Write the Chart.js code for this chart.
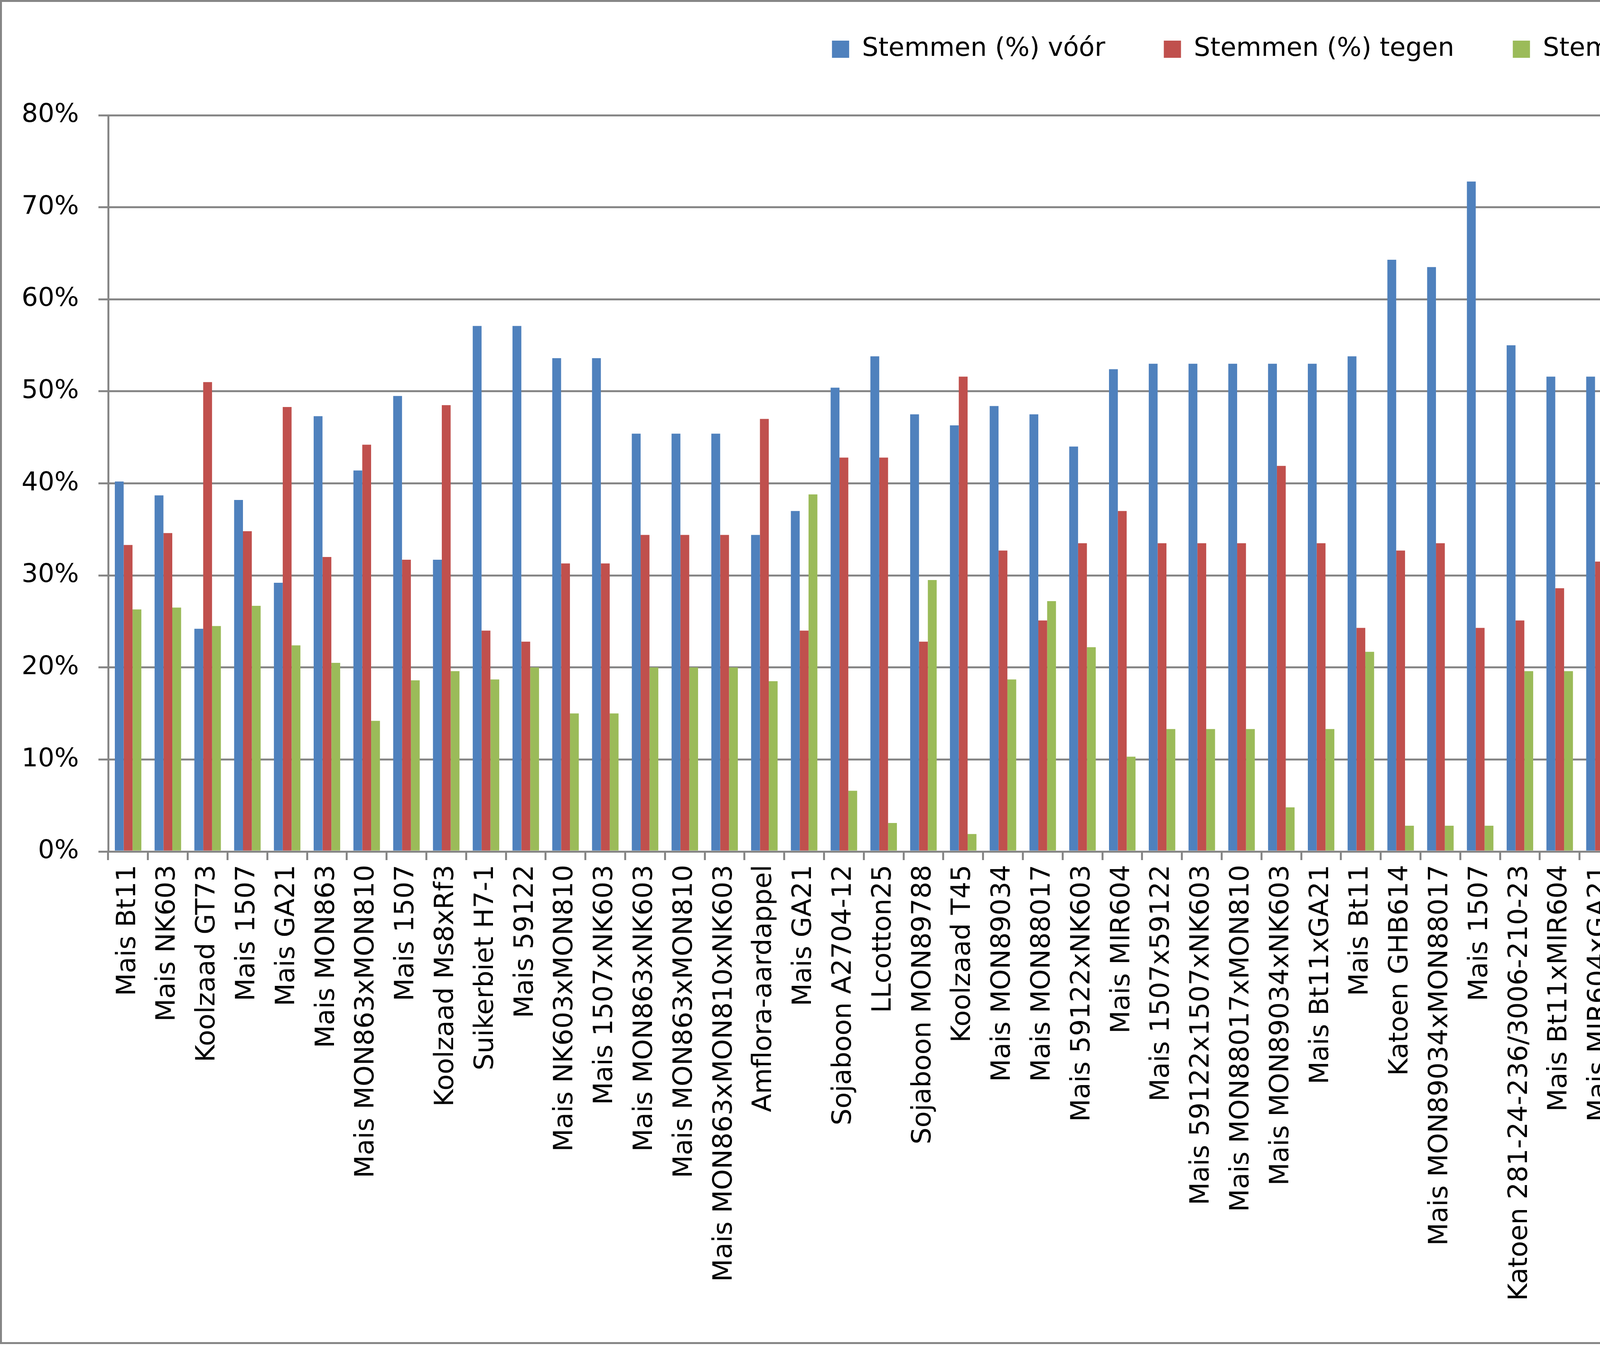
<!DOCTYPE html>
<html>
<head>
<meta charset="utf-8">
<script src="https://cdn.jsdelivr.net/npm/chart.js@4.4.1/dist/chart.umd.min.js"></script>
<style>
  html, body { margin: 0; padding: 0; background: #fff; }
  #wrap { position: relative; width: 7091px; height: 3446px; }
  #frame { position: absolute; left: 0; top: 0; width: 7076px; height: 3431px; border: 5px solid #868686; pointer-events: none; }
</style>
</head>
<body>
<div id="wrap">
  <canvas id="chart"></canvas>
  <div id="frame"></div>
</div>
<script>
// categorieën (gewassen / events)
const labels = [
  'Mais Bt11', 'Mais NK603', 'Koolzaad GT73', 'Mais 1507', 'Mais GA21', 'Mais MON863',
  'Mais MON863xMON810', 'Mais 1507', 'Koolzaad Ms8xRf3', 'Suikerbiet H7-1', 'Mais 59122',
  'Mais NK603xMON810', 'Mais 1507xNK603', 'Mais MON863xNK603', 'Mais MON863xMON810',
  'Mais MON863xMON810xNK603', 'Amflora-aardappel', 'Mais GA21', 'Sojaboon A2704-12',
  'LLcotton25', 'Sojaboon MON89788', 'Koolzaad T45', 'Mais MON89034', 'Mais MON88017',
  'Mais 59122xNK603', 'Mais MIR604', 'Mais 1507x59122', 'Mais 59122x1507xNK603',
  'Mais MON88017xMON810', 'Mais MON89034xNK603', 'Mais Bt11xGA21', 'Mais Bt11',
  'Katoen GHB614', 'Mais MON89034xMON88017', 'Mais 1507', 'Katoen 281-24-236/3006-210-23',
  'Mais Bt11xMIR604', 'Mais MIR604xGA21', 'Mais Bt11xMIR604xGA21', 'Sojaboon A5547-127',
  'Koolzaad 40-3-2', 'Sojaboon MON87701', 'Sojaboon 356043', 'Sojaboon MON87701xMON89788',
  'Mais MIR162', 'Koolzaad Ms8xRf3', 'Pollen van MON810', 'SmartStax-mais',
  'Mais MON89017x1507xNK603', 'Mais MON87460', 'Koolzaad GT73', 'Katoen T304-40',
  'Sojaboon MON87708', 'Mais T25', 'Sojaboon 305423', 'Sojaboon MON87705',
  'Sojaboon BS-CV127-9', 'Mais NK603', 'GHB614xLLCotton25', 'Koolzaad MON88302',
  'Katoen MON88913', 'Sojaboon MON87769', 'Katoen MON531', 'Katoen MON1445',
  'Katoen MON531xMON1445', 'Katoen MON15985'
];

// stemmen in procenten
const voor = [
  40.2, 38.7, 24.2, 38.2, 29.2, 47.3, 41.4, 49.5, 31.7, 57.1, 57.1,
  53.6, 53.6, 45.4, 45.4, 45.4, 34.4, 37.0, 50.4, 53.8, 47.5, 46.3,
  48.4, 47.5, 44.0, 52.4, 53.0, 53.0, 53.0, 53.0, 53.0, 53.8, 64.3,
  63.5, 72.8, 55.0, 51.6, 51.6, 51.6, 52.4, 52.4, 52.4, 52.4, 43.2,
  47.5, 47.5, 47.7, 45.7, 45.7, 43.7, 46.5, 55.9, 42.3, 45.7, 45.7,
  45.7, 45.7, 45.7, 29.5, 29.5, 29.5, 38.7, 36.9, 36.9, 36.9, 40.0
];
const tegen = [
  33.3, 34.6, 51.0, 34.8, 48.3, 32.0, 44.2, 31.7, 48.5, 24.0, 22.8,
  31.3, 31.3, 34.4, 34.4, 34.4, 47.0, 24.0, 42.8, 42.8, 22.8, 51.6,
  32.7, 25.1, 33.5, 37.0, 33.5, 33.5, 33.5, 41.9, 33.5, 24.3, 32.7,
  33.5, 24.3, 25.1, 28.6, 31.5, 31.5, 32.7, 23.1, 27.8, 27.2, 25.1,
  27.2, 22.2, 41.1, 34.9, 34.9, 34.9, 28.6, 35.7, 23.0, 20.9, 29.2,
  31.2, 23.0, 27.5, 30.4, 29.6, 16.5, 30.5, 31.9, 35.0, 35.0, 31.9
];
const onthouding = [
  26.3, 26.5, 24.5, 26.7, 22.4, 20.5, 14.2, 18.6, 19.6, 18.7, 20.0,
  15.0, 15.0, 20.0, 20.0, 20.0, 18.5, 38.8, 6.6, 3.1, 29.5, 1.9,
  18.7, 27.2, 22.2, 10.3, 13.3, 13.3, 13.3, 4.8, 13.3, 21.7, 2.8,
  2.8, 2.8, 19.6, 19.6, 16.7, 16.7, 14.7, 24.3, 19.6, 20.2, 31.5,
  25.1, 28.0, 10.9, 19.2, 19.2, 21.2, 24.6, 8.1, 28.0, 26.6, 18.4,
  16.4, 24.6, 26.6, 30.6, 31.5, 44.5, 30.6, 29.9, 27.9, 27.9, 27.9
];

const gridGrijs = '#868686';
const fontNaam = "'DejaVu Sans', sans-serif";
const legendaPadding = 150;

// legenda: vaste hoogte en positie, zodat het plotgebied op 295px begint
const legendaPlaats = {
  id: 'legendaPlaats',
  beforeInit(chart) {
    const origFit = chart.legend.fit;
    chart.legend.fit = function () {
      origFit.call(this);
      this.height = 216;
    };
  },
  afterLayout(chart) {
    const lg = chart.legend;
    lg.top = 126 - 33 - legendaPadding;
    lg.left = lg.left + 86;
  }
};

new Chart(document.getElementById('chart'), {
  type: 'bar',
  data: {
    labels: labels,
    datasets: [
      { label: 'Stemmen (%) vóór', data: voor, backgroundColor: '#4F81BD' },
      { label: 'Stemmen (%) tegen', data: tegen, backgroundColor: '#C0504D' },
      { label: 'Stemmen (%) door onthouding', data: onthouding, backgroundColor: '#9BBB59' }
    ]
  },
  options: {
    responsive: true,
    maintainAspectRatio: false,
    devicePixelRatio: 1,
    animation: false,
    categoryPercentage: 0.667,
    barPercentage: 1.0,
    layout: { padding: { top: 79, left: 20, right: 95, bottom: 10 } },
    plugins: {
      legend: {
        position: 'top',
        labels: {
          color: '#000',
          font: { family: fontNaam, size: 66 },
          boxWidth: 44,
          boxHeight: 44,
          padding: legendaPadding
        }
      },
      tooltip: { enabled: false }
    },
    scales: {
      x: {
        grid: {
          display: true,
          drawOnChartArea: false,
          drawTicks: true,
          tickLength: 22,
          color: gridGrijs,
          lineWidth: 5,
          offset: true
        },
        border: { color: gridGrijs, width: 5 },
        ticks: {
          color: '#000',
          font: { family: fontNaam, size: 68 },
          autoSkip: false,
          minRotation: 90,
          maxRotation: 90,
          padding: 12
        },
        afterFit(scale) { scale.height = 3446 - 2180 - 10; }
      },
      y: {
        min: 0,
        max: 80,
        grid: { color: gridGrijs, lineWidth: 5, tickLength: 25 },
        border: { color: gridGrijs, width: 5 },
        ticks: {
          stepSize: 10,
          color: '#000',
          font: { family: fontNaam, size: 66 },
          padding: 50,
          callback: v => v + '%'
        },
        afterFit(scale) { scale.width = 277 - 20; }
      }
    }
  },
  plugins: [legendaPlaats]
});
</script>
</body>
</html>
